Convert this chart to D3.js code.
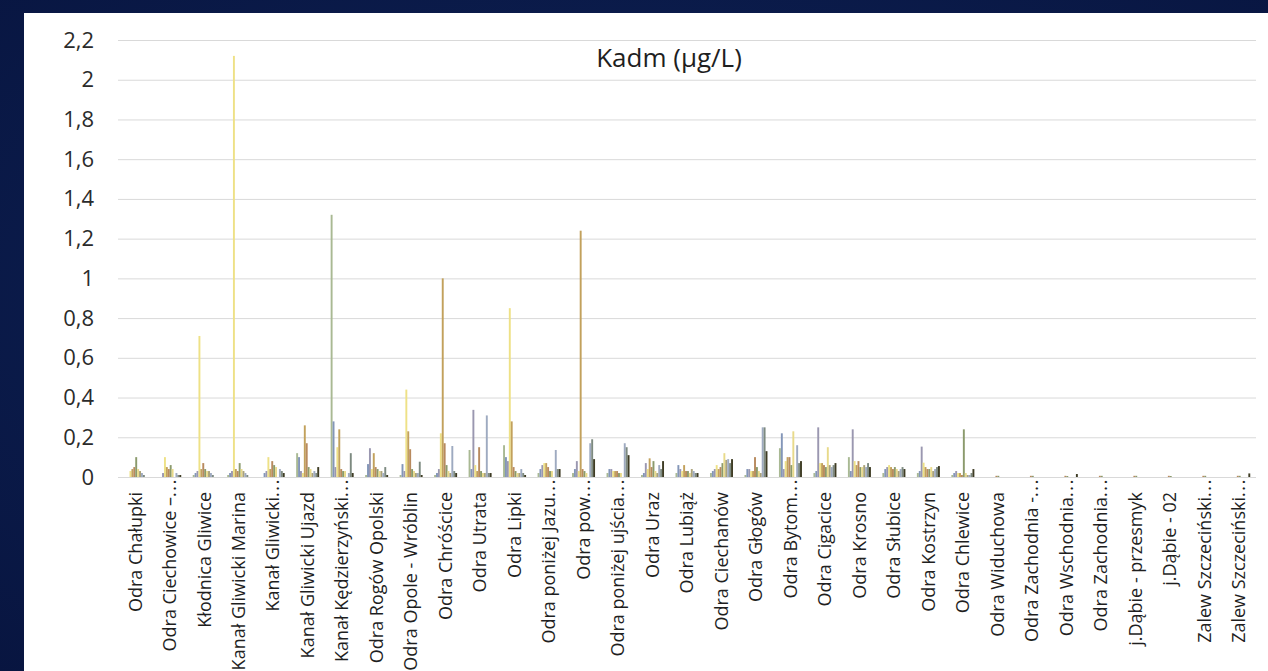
<!DOCTYPE html>
<html><head><meta charset="utf-8">
<script src="https://cdn.jsdelivr.net/npm/d3@7"></script>
<style>
html,body{margin:0;padding:0;background:#0a1a4a;overflow:hidden}
svg{display:block}
</style>
</head><body>
<svg id="chart" width="1268" height="671"></svg>
<script>
const chartTitle = "Kadm (µg/L)";
const categories = ["Odra Chałupki","Odra Ciechowice –...","Kłodnica Gliwice","Kanał Gliwicki Marina","Kanał Gliwicki...","Kanał Gliwicki Ujazd","Kanał Kędzierzyński...","Odra Rogów Opolski","Odra Opole - Wróblin","Odra Chróścice","Odra Utrata","Odra Lipki","Odra poniżej Jazu...","Odra pow...","Odra poniżej  ujścia...","Odra Uraz","Odra Lubiąż","Odra Ciechanów","Odra Głogów","Odra Bytom...","Odra Cigacice","Odra Krosno","Odra Słubice","Odra Kostrzyn","Odra Chlewice","Odra Widuchowa","Odra Zachodnia -...","Odra Wschodnia...","Odra Zachodnia...","j.Dąbie - przesmyk","j.Dąbie - 02","Zalew Szczeciński...","Zalew Szczeciński..."];
const yTicks = [0,0.2,0.4,0.6,0.8,1,1.2,1.4,1.6,1.8,2,2.2];
const seriesNames = ["Pomiar 1","Pomiar 2","Pomiar 3","Pomiar 4","Pomiar 5","Pomiar 6","Pomiar 7","Pomiar 8","Pomiar 9","Pomiar 10","Pomiar 11","Pomiar 12"];
const s1  = [0,0,.01,.01,0,.12,1.32,.01,.01,.01,.136,.16,.02,.02,.02,.01,.02,.02,.01,.145,.02,.1,.02,.02,.01,0,0,0,0,0,0,0,0];
const s2  = [0,0,.02,.02,.02,.1,.28,.065,.065,.02,.04,.1,.04,.04,.04,.02,.06,.03,.04,.22,.03,.03,.04,.03,.02,0,0,0,0,0,0,0,0];
const s3  = [0,.02,.03,.03,.03,.03,.05,.145,.03,.04,.338,.08,.06,.08,.04,.07,.04,.04,.04,.04,.25,.24,.05,.153,.03,0,0,0,0,0,0,0,0];
const s4  = [.03,.1,.71,2.12,.1,.02,.15,.04,.44,.22,.06,.85,.07,.03,.03,.04,.03,.06,.03,.08,.07,.08,.06,.072,.02,0,0,0,0,0,0,0,0];
const s5  = [.04,.05,.04,.04,.04,.26,.24,.12,.23,1.0,.03,.28,.07,1.24,.03,.094,.06,.04,.03,.1,.07,.06,.05,.05,.02,0,0,0,0,0,0,0,0];
const s6  = [.05,.04,.07,.03,.08,.17,.04,.05,.14,.17,.15,.05,.05,.04,.03,.05,.03,.05,.1,.1,.06,.08,.04,.04,.01,.006,.006,.006,.006,.006,.006,.006,.006];
const s7  = [.1,.06,.04,.07,.06,.05,.03,.04,.04,.06,.03,.03,.03,.03,.02,.08,.03,.07,.05,.06,.05,.05,.05,.04,.24,.006,.006,.005,.006,.006,.005,.006,.006];
const s8  = [.04,.04,.03,.04,.05,.04,.03,.03,.03,.03,.02,.02,.03,.02,.02,.03,.02,.12,.03,.23,.15,.05,.04,.05,.02,0,0,0,0,0,0,0,0];
const s9  = [.03,0,.03,.03,0,.02,0,.03,.02,.02,.02,.02,0,0,0,.02,.04,.086,.02,0,.06,.06,.03,.03,.01,0,0,0,0,0,0,0,0];
const s10 = [.02,.02,.02,.02,.04,.03,.02,.02,.02,.156,.31,.04,.136,.17,.17,.06,.03,.09,.25,.16,.05,.05,.04,.04,.01,0,0,0,0,0,0,0,0];
const s11 = [.01,.01,.01,.01,.03,.02,.12,.05,.077,.03,.02,.02,.04,.19,.15,.04,.02,.07,.25,.07,.06,.07,.05,.05,.02,0,0,0,0,0,0,0,0];
const s12 = [0,.01,0,0,.02,.05,.02,.01,.01,.02,.02,.01,.04,.09,.11,.08,.02,.09,.13,.08,.07,.05,.04,.055,.04,0,0,.015,0,0,0,0,.018];
const seriesColors = ["#a9b993","#8396b8","#9a97b0","#eee186","#c2a15c","#b88a5e","#8b9a6c","#e8da8a","#aaa27a","#9eaac0","#7d8a80","#3e3c24"];

const allSeries = [s1,s2,s3,s4,s5,s6,s7,s8,s9,s10,s11,s12];
const table = categories.map((c,i)=>({cat:c, idx:i, values: allSeries.map(s=>s[i])}));

const svg = d3.select("#chart");
const W = 1268, H = 671;
// background
const defs = svg.append("defs");
const rg = defs.append("radialGradient").attr("id","bg").attr("cx","50%").attr("cy","45%").attr("r","75%");
rg.append("stop").attr("offset","0%").attr("stop-color","#0e2358");
rg.append("stop").attr("offset","100%").attr("stop-color","#081540");
svg.append("rect").attr("width",W).attr("height",H).attr("fill","url(#bg)");
svg.append("rect").attr("x",24).attr("y",13).attr("width",W-24).attr("height",H-13).attr("fill","#ffffff");

const margin = {left:118, right:1256, top:40, bottom:477};
const x0 = d3.scaleBand().domain(categories.map((c,i)=>i)).range([margin.left, margin.right]).paddingInner(0.333).paddingOuter(0.1667);
const x1 = d3.scaleBand().domain(d3.range(allSeries.length)).range([0, x0.bandwidth()]);
const y = d3.scaleLinear().domain([0,2.2]).range([margin.bottom, margin.top]);

const fmt = v => String(+v.toFixed(1)).replace(".", ",");

// gridlines
const grid = svg.append("g").attr("transform",`translate(${margin.left},0)`)
  .call(d3.axisLeft(y).tickValues(yTicks).tickSize(-(margin.right-margin.left)).tickFormat(""));
grid.select(".domain").remove();
grid.selectAll("line").attr("stroke","#d9d9d9").attr("stroke-width",1);

// y labels
const yAx = svg.append("g").attr("transform",`translate(94,0)`)
  .call(d3.axisLeft(y).tickValues(yTicks).tickSize(0).tickPadding(0).tickFormat(fmt));
yAx.select(".domain").remove();
yAx.selectAll("text").attr("fill","#2b2b2b").style("font-family","'Open Sans', sans-serif").style("font-size","22px");

// bars
const groups = svg.append("g").selectAll("g").data(table).join("g")
  .attr("transform", d=>`translate(${x0(d.idx)},0)`);
groups.selectAll("rect").data(d=>d.values.map((v,k)=>({v,k}))).join("rect")
  .attr("x", d=>x1(d.k)).attr("width", x1.bandwidth())
  .attr("y", d=>y(Math.max(0,d.v))).attr("height", d=>Math.abs(y(d.v)-y(0)))
  .attr("fill", d=>seriesColors[d.k]);

// x labels (truncated labels: the "..." reaches up to the axis)
const xAx = svg.append("g").attr("transform",`translate(0,${margin.bottom})`)
  .call(d3.axisBottom(x0).tickSize(0).tickFormat(i=>categories[i]));
xAx.select(".domain").remove();
xAx.selectAll("text")
  .attr("transform", i => categories[i].endsWith("...") ? "translate(0,1) rotate(-90)" : "translate(0,15) rotate(-90)")
  .attr("x",0).attr("y",0).attr("dy","0.35em")
  .attr("text-anchor","end")
  .attr("fill","#1f1f1f")
  .style("font-family","'Open Sans', sans-serif").style("font-size","18px")
  .each(function(i){
    const name = categories[i];
    if (name.endsWith("...")) {
      const t = d3.select(this).text(null);
      t.append("tspan").text(name.slice(0,-3));
      t.append("tspan").attr("letter-spacing","1.6px").text("...");
    }
  });

// title
svg.append("text").attr("x",669).attr("y",67).attr("text-anchor","middle")
  .attr("fill","#1f1f1f").style("font-family","'Open Sans', sans-serif").style("font-size","26px")
  .text(chartTitle);
</script>
</body></html>
